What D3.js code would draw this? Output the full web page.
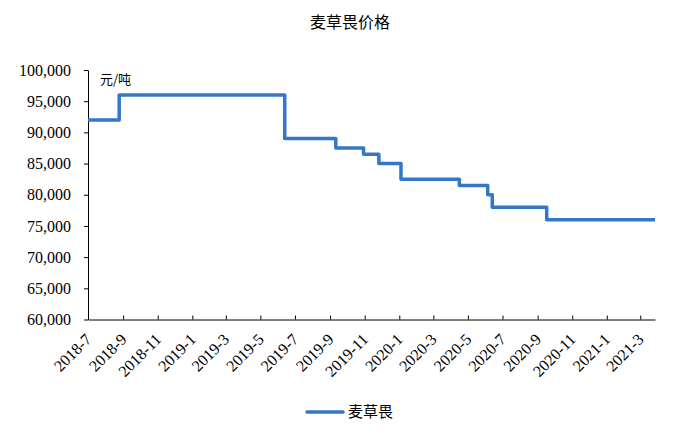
<!DOCTYPE html>
<html>
<head>
<meta charset="utf-8">
<script src="https://cdn.jsdelivr.net/npm/d3@7"></script>
<style>
  body { margin: 0; background: #fff; }
  svg { display: block; }
</style>
</head>
<body>
<div id="chart"></div>
<script>
// step dates (price changes) and prices, 元/吨
const stepDates = [
  "2018-07-01", "2018-08-25", "2019-06-13", "2019-09-11", "2019-10-30",
  "2019-11-26", "2020-01-04", "2020-04-16", "2020-06-05", "2020-06-13",
  "2020-09-17", "2021-03-27"
];
const stepPrices = [
  92000, 96000, 89000, 87500, 86500,
  85000, 82500, 81500, 80000, 78000,
  76000, 76000
];
const xTickLabels = [
  "2018-7", "2018-9", "2018-11", "2019-1", "2019-3", "2019-5", "2019-7",
  "2019-9", "2019-11", "2020-1", "2020-3", "2020-5", "2020-7", "2020-9",
  "2020-11", "2021-1", "2021-3"
];
const yTicks = [60000, 65000, 70000, 75000, 80000, 85000, 90000, 95000, 100000];
const seriesName = "麦草畏";
const chartTitle = "麦草畏价格";
const unitLabel = "元/吨";

const width = 694, height = 442;
const plotLeft = 88, plotRight = 655, plotTop = 70, plotBottom = 319.5;
const serif = "Liberation Serif";
const cjk = "Noto Sans CJK SC";
const lineColor = "#3477c7";

const parse = d3.timeParse("%Y-%m-%d");
const parseMonth = d3.timeParse("%Y-%m");
const data = stepDates.map((d, i) => ({ date: parse(d), value: stepPrices[i] }));

const svg = d3.select("#chart").append("svg")
  .attr("width", width)
  .attr("height", height);

const x = d3.scaleTime()
  .domain([parse("2018-07-01"), parse("2021-03-27")])
  .range([plotLeft, plotRight]);

const y = d3.scaleLinear()
  .domain([60000, 100000])
  .range([plotBottom, plotTop]);

// title
svg.append("text")
  .attr("x", 350)
  .attr("y", 28)
  .attr("text-anchor", "middle")
  .attr("font-family", cjk)
  .attr("font-size", 16)
  .attr("fill", "#000")
  .text(chartTitle);

// y axis
const yAxis = svg.append("g")
  .attr("transform", `translate(${plotLeft},0)`)
  .call(d3.axisLeft(y).tickValues(yTicks).tickSize(4).tickSizeOuter(0)
    .tickFormat(d3.format(",")));
yAxis.attr("font-family", serif).attr("font-size", 16);
yAxis.select(".domain").attr("stroke", "#000");
yAxis.selectAll(".tick line").attr("stroke", "#000");
yAxis.selectAll(".tick text")
  .attr("x", -17)
  .attr("font-family", serif)
  .attr("fill", "#000");

// x axis
const xTickDates = xTickLabels.map(parseMonth);
const xAxis = svg.append("g")
  .attr("transform", `translate(0,${plotBottom})`)
  .call(d3.axisBottom(x).tickValues(xTickDates).tickSize(-4).tickSizeOuter(0)
    .tickFormat((d, i) => xTickLabels[i]));
xAxis.attr("font-family", serif).attr("font-size", 16);
xAxis.select(".domain").attr("stroke", "#000");
xAxis.selectAll(".tick line").attr("stroke", "#000");
xAxis.selectAll(".tick text")
  .attr("font-family", serif)
  .attr("fill", "#000")
  .attr("text-anchor", "end")
  .attr("transform", "translate(0,17) rotate(-45)")
  .attr("x", 0)
  .attr("y", 0)
  .attr("dy", "0.35em");

// unit label
svg.append("text")
  .attr("x", 100)
  .attr("y", 84)
  .attr("font-family", cjk)
  .attr("font-size", 13)
  .attr("fill", "#000")
  .text(unitLabel);

// step line
const line = d3.line()
  .x(d => x(d.date))
  .y(d => y(d.value))
  .curve(d3.curveStepAfter);

svg.append("path")
  .datum(data)
  .attr("fill", "none")
  .attr("stroke", lineColor)
  .attr("stroke-width", 3.5)
  .attr("stroke-linejoin", "round")
  .attr("d", line);

// legend
const legend = svg.append("g")
  .attr("transform", "translate(307,412)");
legend.append("line")
  .attr("x1", 0).attr("x2", 36)
  .attr("y1", 0).attr("y2", 0)
  .attr("stroke", lineColor)
  .attr("stroke-width", 3.5)
  .attr("stroke-linecap", "round");
legend.append("text")
  .attr("x", 41)
  .attr("y", 5)
  .attr("font-family", cjk)
  .attr("font-size", 15)
  .attr("fill", "#000")
  .text(seriesName);
</script>
</body>
</html>
